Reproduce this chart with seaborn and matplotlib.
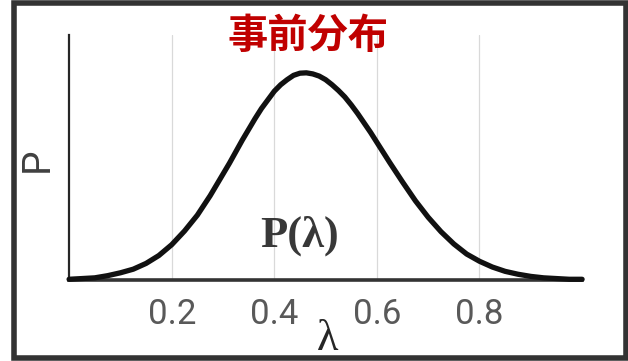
import matplotlib
matplotlib.use("Agg")
import matplotlib.pyplot as plt
from matplotlib.patches import Rectangle
import seaborn as sns
import pandas as pd

# Prior density P(lambda); denser sampling around the peak
lam = [0.000, 0.025, 0.050, 0.075, 0.100, 0.125, 0.150, 0.175, 0.200, 0.225,
       0.250, 0.275, 0.300, 0.3125, 0.325, 0.3375, 0.350, 0.3625, 0.375, 0.3875,
       0.400, 0.4125, 0.425, 0.4375, 0.450, 0.4625, 0.475, 0.4875, 0.500, 0.5125,
       0.525, 0.5375, 0.550, 0.5625, 0.575, 0.5875, 0.600, 0.6125, 0.625, 0.650,
       0.675, 0.700, 0.725, 0.750, 0.775, 0.800, 0.825, 0.850, 0.875, 0.900,
       0.925, 0.950, 0.975, 1.000]
prob = [0.01, 0.02, 0.03, 0.06, 0.10, 0.15, 0.23, 0.34, 0.49, 0.68,
        0.90, 1.17, 1.47, 1.62, 1.78, 1.94, 2.09, 2.24, 2.38, 2.50,
        2.62, 2.71, 2.78, 2.84, 2.87, 2.875, 2.86, 2.83, 2.78, 2.71,
        2.63, 2.54, 2.43, 2.31, 2.18, 2.05, 1.91, 1.77, 1.63, 1.36,
        1.10, 0.87, 0.67, 0.50, 0.36, 0.26, 0.18, 0.12, 0.08, 0.05,
        0.03, 0.02, 0.01, 0.01]
x_ticks = [0.2, 0.4, 0.6, 0.8]
x_tick_labels = ["0.2", "0.4", "0.6", "0.8"]

title_text = "事前分布"
curve_label = "P(λ)"

df = pd.DataFrame({"lam": lam, "prob": prob})

sns.set_theme(style="white")
plt.rcParams["font.family"] = ["Roboto", "DejaVu Sans"]

W, H = 628, 361
fig = plt.figure(figsize=(W / 100, H / 100), dpi=100)
fig.patch.set_facecolor("white")

x0, x1, y_top, y_bot = 69.1, 582.1, 35, 280
ax = fig.add_axes([x0 / W, 1 - y_bot / H, (x1 - x0) / W, (y_bot - y_top) / H])

sns.lineplot(data=df, x="lam", y="prob", ax=ax, color="#111111",
             linewidth=3.8, solid_capstyle="round", solid_joinstyle="round",
             clip_on=False, zorder=5)

ax.set_xlim(0, 1)
ax.set_ylim(0, 3.40)

# vertical gridlines only
ax.set_xticks(x_ticks)
ax.set_xticklabels(x_tick_labels)
ax.set_yticks([])
ax.grid(False)
for xv in x_ticks:
    ax.axvline(xv, color="#d9d9d9", linewidth=0.9, zorder=1)

ax.tick_params(axis="x", length=0, pad=13, labelsize=25, labelcolor="#595959")
for t in ax.get_xticklabels():
    t.set_fontfamily(["Roboto", "DejaVu Sans"])

for side in ("top", "right"):
    ax.spines[side].set_visible(False)
ax.spines["left"].set_color("#262626")
ax.spines["left"].set_linewidth(1.6)
ax.spines["bottom"].set_color("#333333")
ax.spines["bottom"].set_linewidth(2.6)
ax.spines["bottom"].set_zorder(4)

ax.set_ylabel("P", fontsize=28, color="#404040", fontfamily=["Roboto", "DejaVu Sans"])
ax.yaxis.label.set_va("center")
ax.yaxis.set_label_coords(-(x0 - 37) / (x1 - x0), 0.49)

ax.set_xlabel("λ", fontsize=32, color="#262626",
              fontfamily=["Liberation Serif", "DejaVu Serif"])
ax.xaxis.label.set_va("center")
ax.xaxis.set_label_coords((328 - x0) / (x1 - x0), -(339 - y_bot) / (y_bot - y_top))

fig.text(308 / W, 1 - 37 / H, title_text, ha="center", va="center",
         fontsize=29, fontweight="bold", color="#C00000",
         fontfamily=["Noto Sans CJK JP", "DejaVu Sans"])

fig.text(300 / W, 1 - 236 / H, curve_label, ha="center", va="center",
         fontsize=32, fontweight="bold", color="#383838",
         fontfamily=["Liberation Serif", "DejaVu Serif"])

# outer frame around the whole figure
fig.add_artist(Rectangle((13.8 / W, 3 / H), (625.5 - 13.8) / W, (358 - 3) / H,
                         transform=fig.transFigure, fill=False,
                         edgecolor="#333333", linewidth=4.0, zorder=20))

fig.savefig("out.png", dpi=100, facecolor="white")
